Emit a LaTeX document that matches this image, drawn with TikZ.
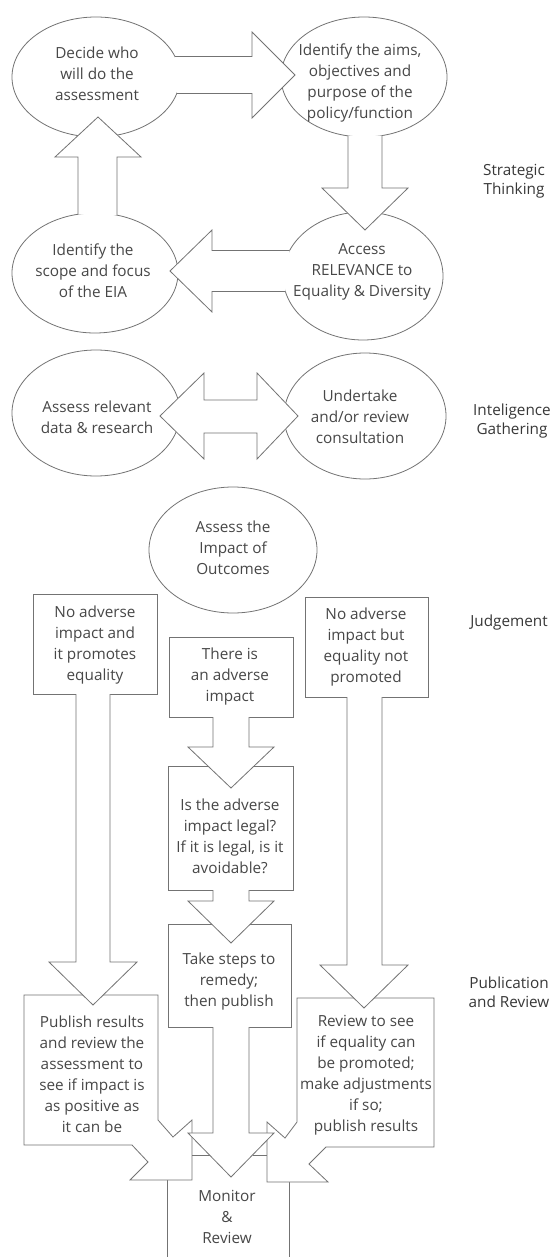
\documentclass[tikz,border=0pt]{standalone}
\usepackage{fontspec}
\setmainfont{Open Sans}
\begin{document}
\begin{tikzpicture}[x=1pt,y=-1pt,
  ln/.style={draw=black!55, line width=0.8pt, line join=miter},
  shp/.style={ln, fill=white},
  txt/.style={align=center, text=black!72, font=\fontsize{15.3}{21}\selectfont, inner sep=0pt},
  lab/.style={align=center, text=black!78, font=\fontsize{15.3}{19}\selectfont, inner sep=0pt}]
\useasboundingbox (0,0) rectangle (557,1257);
\fill[white] (0,0) rectangle (557,1257);

% ---------- ellipses ----------
\path[shp] (96,77) ellipse [x radius=84pt,y radius=60pt];
\path[shp] (364,77) ellipse [x radius=83pt,y radius=60pt];
\path[shp] (95,273) ellipse [x radius=83pt,y radius=60pt];
\path[shp] (363,276) ellipse [x radius=80pt,y radius=64pt];
\path[shp] (96,413) ellipse [x radius=84pt,y radius=63pt];
\path[shp] (365,416) ellipse [x radius=81pt,y radius=63pt];
\path[shp] (233,550) ellipse [x radius=84pt,y radius=63pt];

% ---------- block arrows of the strategic cycle ----------
% A -> B
\fill[white] (174.9,56.5) -- (252,56.5) -- (252,32) -- (295,75) -- (252,118) -- (252,93.5) -- (176.8,93.5) -- cycle;
\draw[ln] (174.9,56.5) -- (252,56.5) -- (252,32) -- (295,75) -- (252,118) -- (252,93.5) -- (176.8,93.5);
% C -> A
\fill[white] (78,214.3) -- (78,157) -- (55,157) -- (98,117) -- (141,157) -- (117,157) -- (117,215.1) -- cycle;
\draw[ln] (78,214.3) -- (78,157) -- (55,157) -- (98,117) -- (141,157) -- (117,157) -- (117,215.1);
% D -> C
\fill[white] (289.6,250.5) -- (212,250.5) -- (212,230) -- (170,271) -- (212,312) -- (212,291.5) -- (285.4,291.5) -- cycle;
\draw[ln] (289.6,250.5) -- (212,250.5) -- (212,230) -- (170,271) -- (212,312) -- (212,291.5) -- (285.4,291.5);
% B -> D
\fill[white] (348,135.9) -- (348,188) -- (322,188) -- (365,230) -- (408,188) -- (382,188) -- (382,135.6) -- cycle;
\draw[ln] (348,135.9) -- (348,188) -- (322,188) -- (365,230) -- (408,188) -- (382,188) -- (382,135.6);
% E <-> F
\draw[shp] (160,416) -- (204,373) -- (204,400) -- (257,400) -- (257,373) -- (298,416) -- (257,459) -- (257,433) -- (204,433) -- (204,459) -- cycle;

% ---------- boxes ----------
\draw[shp] (33,594) rectangle (157,694);
\draw[shp] (169,637) rectangle (293,717);
\draw[shp] (305,597) rectangle (428,697);
\draw[shp] (168,766) rectangle (293,890);
\draw[shp] (168,924) rectangle (291,1027);
% monitor box sides
\draw[ln] (167,1180) -- (167,1257);
\draw[ln] (289,1182) -- (289,1257);
% K callout
\draw[shp] (24,995) -- (158,995) -- (158,1120) -- (173,1137) -- (192,1120) -- (192,1180) -- (130,1180) -- (148,1162) -- (132,1145) -- (24,1145) -- cycle;
% L callout
\draw[shp] (434,998) -- (297,998) -- (297,1122) -- (285,1138) -- (267,1122) -- (267,1182) -- (328,1182) -- (309,1164) -- (326,1147) -- (434,1147) -- cycle;

% ---------- vertical block arrows ----------
% H1 -> K
\fill[white] (76,692) -- (76,962) -- (49,962) -- (93,1005) -- (137,962) -- (110,962) -- (110,692) -- cycle;
\draw[ln] (76,694) -- (76,962) -- (49,962) -- (93,1005) -- (137,962) -- (110,962) -- (110,694);
% H3 -> L
\fill[white] (347,695) -- (347,965) -- (320,965) -- (364,1008) -- (408,965) -- (382,965) -- (382,695) -- cycle;
\draw[ln] (347,697) -- (347,965) -- (320,965) -- (364,1008) -- (408,965) -- (382,965) -- (382,697);
% H2 -> I
\fill[white] (213,715) -- (213,747) -- (188,747) -- (231,788) -- (274,747) -- (249,747) -- (249,715) -- cycle;
\draw[ln] (213,717) -- (213,747) -- (188,747) -- (231,788) -- (274,747) -- (249,747) -- (249,717);
% I -> J
\fill[white] (213,888) -- (213,901) -- (188,901) -- (231,943) -- (274,901) -- (249,901) -- (249,888) -- cycle;
\draw[ln] (213,890) -- (213,901) -- (188,901) -- (231,943) -- (274,901) -- (249,901) -- (249,890);
% J -> Monitor
\fill[white] (213,1025) -- (213,1133) -- (188,1133) -- (231,1177) -- (274,1133) -- (249,1133) -- (249,1025) -- cycle;
\draw[ln] (213,1027) -- (213,1133) -- (188,1133) -- (231,1177) -- (274,1133) -- (249,1133) -- (249,1027);
% joining pieces
\draw[ln] (192,1155) -- (209.5,1155);
\draw[ln] (252.5,1155) -- (267,1155);

% ---------- texts ----------
\node[txt] (tA) at (97,74) {Decide who\\will do the\\assessment};
\node[txt] (tB) at (360,83) {Identify the aims,\\objectives and\\purpose of the\\policy/function};
\node[txt] (tC) at (93,271) {Identify the\\scope and focus\\of the EIA};
\node[txt] (tD) at (362,272) {Access\\RELEVANCE to\\Equality \& Diversity};
\node[txt] (tE) at (97,417) {Assess relevant\\data \& research};
\node[txt] (tF) at (360,417) {Undertake\\and/or review\\consultation};
\node[txt] (tG) at (233,548) {Assess the\\Impact of\\Outcomes};
\node[txt] (tH1) at (95,645) {No adverse\\impact and\\it promotes\\equality};
\node[txt] (tH2) at (230,677) {There is\\an adverse\\impact};
\node[txt] (tH3) at (366,647) {No adverse\\impact but\\equality not\\promoted};
\node[txt] (tI) at (230,836) {Is the adverse\\impact legal?\\If it is legal, is it\\avoidable?};
\node[txt] (tJ) at (229,982) {Take steps to\\remedy;\\then publish};
\node[txt] (tK) at (92,1074) {Publish results\\and review the\\assessment to\\see if impact is\\as positive as\\it can be};
\node[txt] (tL) at (366,1075) {Review to see\\if equality can\\be promoted;\\make adjustments\\if so;\\publish results};
\node[txt] (tM) at (227,1217) {Monitor\\\&\\Review};

\node[lab] (l1) at (514,181) {Strategic\\Thinking};
\node[lab] (l2) at (512,421) {Inteligence\\Gathering};
\node[lab] (l3) at (509,623) {Judgement};
\node[lab] (l4) at (509,992) {Publication\\and Review};
\end{tikzpicture}
\end{document}
